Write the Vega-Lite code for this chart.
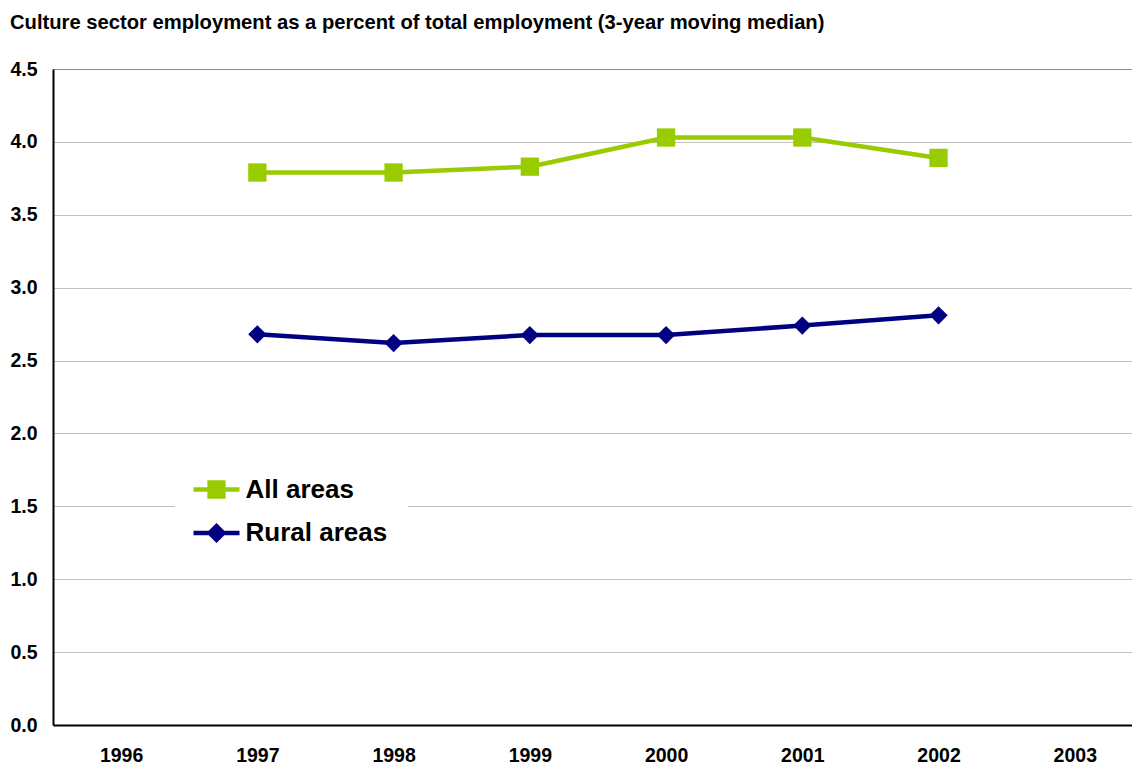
{
  "$schema": "https://vega.github.io/schema/vega-lite/v6.json",
  "autosize": {"type": "none"},
  "padding": {"left": 53, "top": 69, "right": 0, "bottom": 39},
  "width": 1079,
  "height": 656,
  "background": "white",
  "title": {
    "text": "Culture sector employment as a percent of total employment (3-year moving median)",
    "anchor": "start",
    "frame": "group",
    "font": "Liberation Sans",
    "fontSize": 20.2,
    "fontWeight": "bold",
    "color": "#000000",
    "dx": -43,
    "offset": 26
  },
  "config": {"view": {"stroke": null}},
  "data": {
    "values": [
      {"year": 1997, "series": "All areas", "value": 3.79},
      {"year": 1998, "series": "All areas", "value": 3.79},
      {"year": 1999, "series": "All areas", "value": 3.83},
      {"year": 2000, "series": "All areas", "value": 4.03},
      {"year": 2001, "series": "All areas", "value": 4.03},
      {"year": 2002, "series": "All areas", "value": 3.89},
      {"year": 1997, "series": "Rural areas", "value": 2.68},
      {"year": 1998, "series": "Rural areas", "value": 2.62},
      {"year": 1999, "series": "Rural areas", "value": 2.675},
      {"year": 2000, "series": "Rural areas", "value": 2.675},
      {"year": 2001, "series": "Rural areas", "value": 2.74},
      {"year": 2002, "series": "Rural areas", "value": 2.81}
    ]
  },
  "encoding": {
    "x": {
      "field": "year",
      "type": "quantitative",
      "scale": {"domain": [1995.5, 2003.42], "nice": false, "zero": false},
      "axis": {
        "title": null,
        "values": [1996, 1996.5, 1997, 1997.5, 1998, 1998.5, 1999, 1999.5, 2000, 2000.5, 2001, 2001.5, 2002, 2002.5, 2003],
        "format": "d",
        "labelExpr": "datum.value % 1 === 0 ? datum.label : ''",
        "grid": false,
        "domainColor": "#000000",
        "domainWidth": 2,
        "tickSize": -6,
        "tickColor": "#000000",
        "tickWidth": 1,
        "tickOpacity": {"condition": {"test": "datum.value % 1 === 0", "value": 0}, "value": 1},
        "labelFont": "Liberation Sans",
        "labelFontSize": 19.5,
        "labelFontWeight": "bold",
        "labelColor": "#000000",
        "labelPadding": 27,
        "labelOverlap": false,
        "labelFlush": false,
        "labelBound": false
      }
    },
    "y": {
      "field": "value",
      "type": "quantitative",
      "scale": {"domain": [0, 4.5], "nice": false},
      "axis": {
        "title": null,
        "values": [0, 0.5, 1, 1.5, 2, 2.5, 3, 3.5, 4, 4.5],
        "format": ".1f",
        "grid": true,
        "gridColor": {"condition": {"test": "datum.value >= 4.5", "value": "#8c8c8c"}, "value": "#c0c0c0"},
        "gridWidth": 1,
        "tickSize": 0,
        "domainColor": "#000000",
        "domainWidth": 2,
        "labelFont": "Liberation Sans",
        "labelFontSize": 19.5,
        "labelFontWeight": "bold",
        "labelColor": "#000000",
        "labelPadding": 16
      }
    },
    "color": {
      "field": "series",
      "type": "nominal",
      "scale": {"domain": ["All areas", "Rural areas"], "range": ["#99cc00", "#000080"]},
      "legend": {
        "title": null,
        "orient": "none",
        "legendX": 122,
        "legendY": 379,
        "padding": 20,
        "fillColor": "white",
        "symbolSize": 1849,
        "symbolStrokeWidth": 0,
        "symbolOpacity": 1,
        "rowPadding": 8.5,
        "labelOffset": 7.5,
        "labelFont": "Liberation Sans",
        "labelFontSize": 26,
        "labelFontWeight": "bold",
        "labelColor": "#000000"
      }
    }
  },
  "layer": [
    {
      "mark": {"type": "line", "strokeWidth": 4.5}
    },
    {
      "transform": [{"filter": "datum.series === 'All areas'"}],
      "mark": {"type": "point", "shape": "square", "filled": true, "opacity": 1, "size": 335, "strokeWidth": 0}
    },
    {
      "transform": [{"filter": "datum.series === 'Rural areas'"}],
      "mark": {"type": "point", "shape": "diamond", "filled": true, "opacity": 1, "size": 335, "strokeWidth": 0}
    },
    {
      "mark": {"type": "point", "filled": true, "opacity": 1, "size": 0, "strokeWidth": 0},
      "encoding": {
        "shape": {
          "field": "series",
          "type": "nominal",
          "scale": {
            "domain": ["All areas", "Rural areas"],
            "range": [
              "M-1.07,-0.105L1.07,-0.105L1.07,0.105L-1.07,0.105Z M-0.425,-0.425L0.425,-0.425L0.425,0.425L-0.425,0.425Z",
              "M-1.07,-0.105L1.07,-0.105L1.07,0.105L-1.07,0.105Z M0,-0.47L0.47,0L0,0.47L-0.47,0Z"
            ]
          },
          "legend": null
        }
      }
    }
  ]
}
